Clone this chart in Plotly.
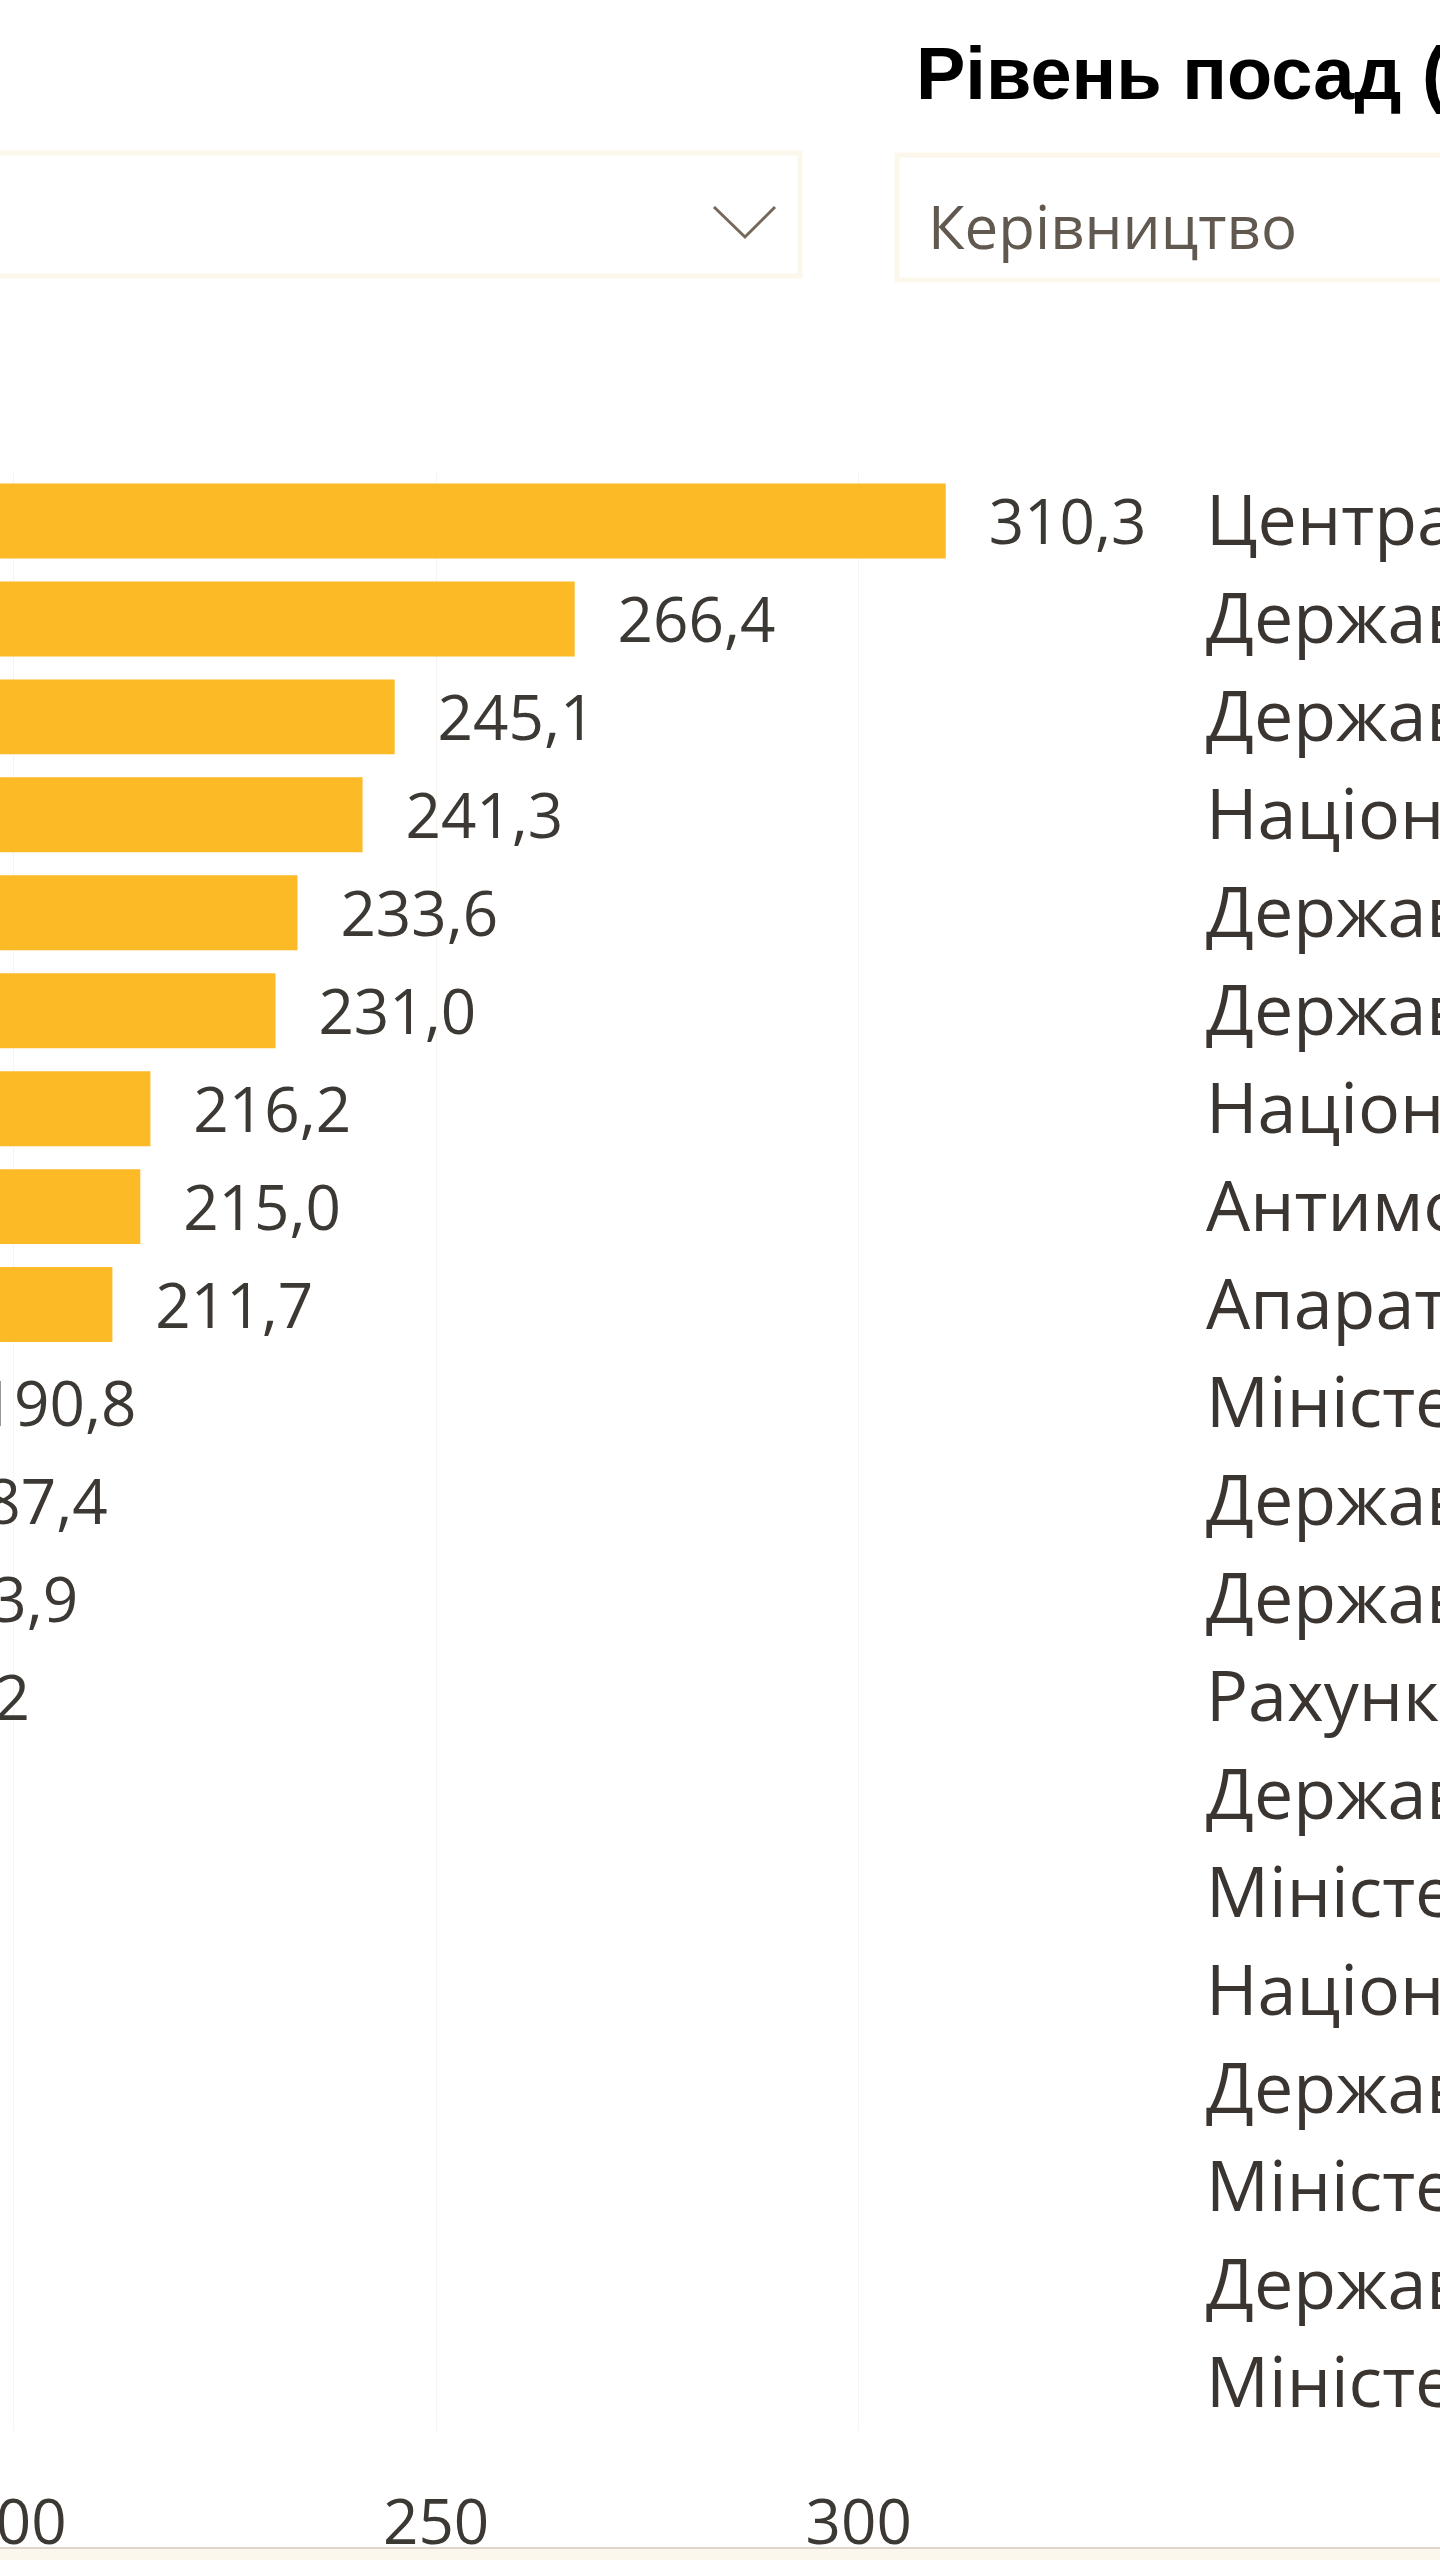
import plotly.graph_objects as go

# ---------------- data ----------------
categories = [
    "Центральна виборча комісія",
    "Державна судова адміністрація України",
    "Державне бюро розслідувань",
    "Національне антикорупційне бюро України",
    "Державна служба фінансового моніторингу України",
    "Державна служба спеціального зв'язку та захисту інформації України",
    "Національне агентство з питань запобігання корупції",
    "Антимонопольний комітет України",
    "Апарат Верховної Ради України",
    "Міністерство фінансів України",
    "Державна податкова служба України",
    "Державна митна служба України",
    "Рахункова палата",
    "Державна аудиторська служба України",
    "Міністерство юстиції України",
    "Національна поліція України",
    "Державна казначейська служба України",
    "Міністерство економіки України",
    "Державна прикордонна служба України",
    "Міністерство закордонних справ України",
]
values = [310.3, 266.4, 245.1, 241.3, 233.6, 231.0, 216.2, 215.0, 211.7, 190.8,
          187.4, 183.9, 178.2, 172.6, 170.1, 166.8, 163.5, 160.2, 157.9, 154.3]
axis_ticks = [200, 250, 300]
axis_range = [198.4, 339.2]

title_text = "Рівень посад (категорія)"
filter_text = "Керівництво"

value_labels = [f"{v:.1f}".replace(".", ",") for v in values]

# ---------------- layout geometry ----------------
W, H = 1440, 2560
M_L, M_R, M_T, M_B = 0, 250, 472, 129
PW = W - M_L - M_R
PH = H - M_T - M_B
N = len(categories)
LABEL_SHIFT = 0.08  # small downward nudge of value labels (category units)


def px_x(px):
    return (px - M_L) / PW


def px_y(py):
    return (H - M_B - py) / PH


BAR_COLOR = "#FCBA27"
TEXT_COLOR = "#3C3834"
FONT = "Open Sans"

fig = go.Figure()
fig.add_trace(go.Bar(
    y=categories, x=values, orientation="h",
    marker=dict(color=BAR_COLOR, line=dict(width=0)),
    hoverinfo="skip", showlegend=False,
))
fig.add_trace(go.Scatter(
    y=categories, x=values, mode="markers+text", yaxis="y2",
    text=value_labels, textposition="middle right",
    marker=dict(size=67, opacity=0),
    textfont=dict(family=FONT, size=62, color=TEXT_COLOR),
    cliponaxis=True, hoverinfo="skip", showlegend=False,
))

fig.update_layout(
    template="none",
    width=W, height=H,
    margin=dict(l=M_L, r=M_R, t=M_T, b=M_B, pad=0),
    paper_bgcolor="#FFFFFF", plot_bgcolor="#FFFFFF",
    bargap=0.235,
    showlegend=False,
    xaxis=dict(
        range=axis_range, tickmode="array", tickvals=axis_ticks,
        ticktext=[str(t) for t in axis_ticks],
        showgrid=True, gridcolor="#F6F4EE", gridwidth=1,
        zeroline=False, showline=False, ticks="",
        tickfont=dict(family=FONT, size=62, color=TEXT_COLOR),
        ticklabelstandoff=50, ticklabeloverflow="allow",
        automargin=False, fixedrange=True,
    ),
    yaxis=dict(
        side="right", range=[N - 0.5, -0.5],
        categoryorder="array", categoryarray=categories,
        showgrid=False, zeroline=False, showline=False, ticks="",
        tickfont=dict(family=FONT, size=70, color="#3A3531"),
        ticklabelstandoff=15, ticklabeloverflow="allow",
        automargin=False, fixedrange=True,
    ),
    yaxis2=dict(
        overlaying="y", visible=False,
        range=[N - 0.5 - LABEL_SHIFT, -0.5 - LABEL_SHIFT],
        categoryorder="array", categoryarray=categories,
        showgrid=False, zeroline=False, automargin=False, fixedrange=True,
    ),
)

shapes = [
    # slicer boxes
    dict(type="rect", xref="paper", yref="paper",
         x0=px_x(-10), x1=px_x(800), y0=px_y(276), y1=px_y(153),
         line=dict(color="#FBF7EA", width=5), fillcolor="#FFFFFF", layer="below"),
    dict(type="rect", xref="paper", yref="paper",
         x0=px_x(897), x1=px_x(1460), y0=px_y(280), y1=px_y(155),
         line=dict(color="#FBF7EA", width=5), fillcolor="#FFFFFF", layer="below"),
    # dropdown chevron
    dict(type="path", xref="paper", yref="paper",
         path=f"M {px_x(714)},{px_y(207)} L {px_x(745)},{px_y(237)} L {px_x(775)},{px_y(207)}",
         line=dict(color="#76685A", width=3)),
    # bottom edge of visual
    dict(type="rect", xref="paper", yref="paper",
         x0=px_x(-10), x1=px_x(1460), y0=px_y(2570), y1=px_y(2549),
         line=dict(width=0), fillcolor="#FBF7EC"),
    dict(type="line", xref="paper", yref="paper",
         x0=px_x(-10), x1=px_x(1460), y0=px_y(2548), y1=px_y(2548),
         line=dict(color="#DCD6CC", width=2)),
]

annotations = [
    dict(text=title_text, xref="paper", yref="paper",
         x=px_x(914), y=px_y(74), xanchor="left", yanchor="middle",
         showarrow=False,
         font=dict(family="Liberation Sans, Arial", size=74, color="#000000", weight="bold")),
    dict(text=filter_text, xref="paper", yref="paper",
         x=px_x(926), y=px_y(226), xanchor="left", yanchor="middle",
         showarrow=False,
         font=dict(family=FONT, size=60, color="#615950")),
]

fig.update_layout(shapes=shapes, annotations=annotations)

fig.write_html("out.html")
